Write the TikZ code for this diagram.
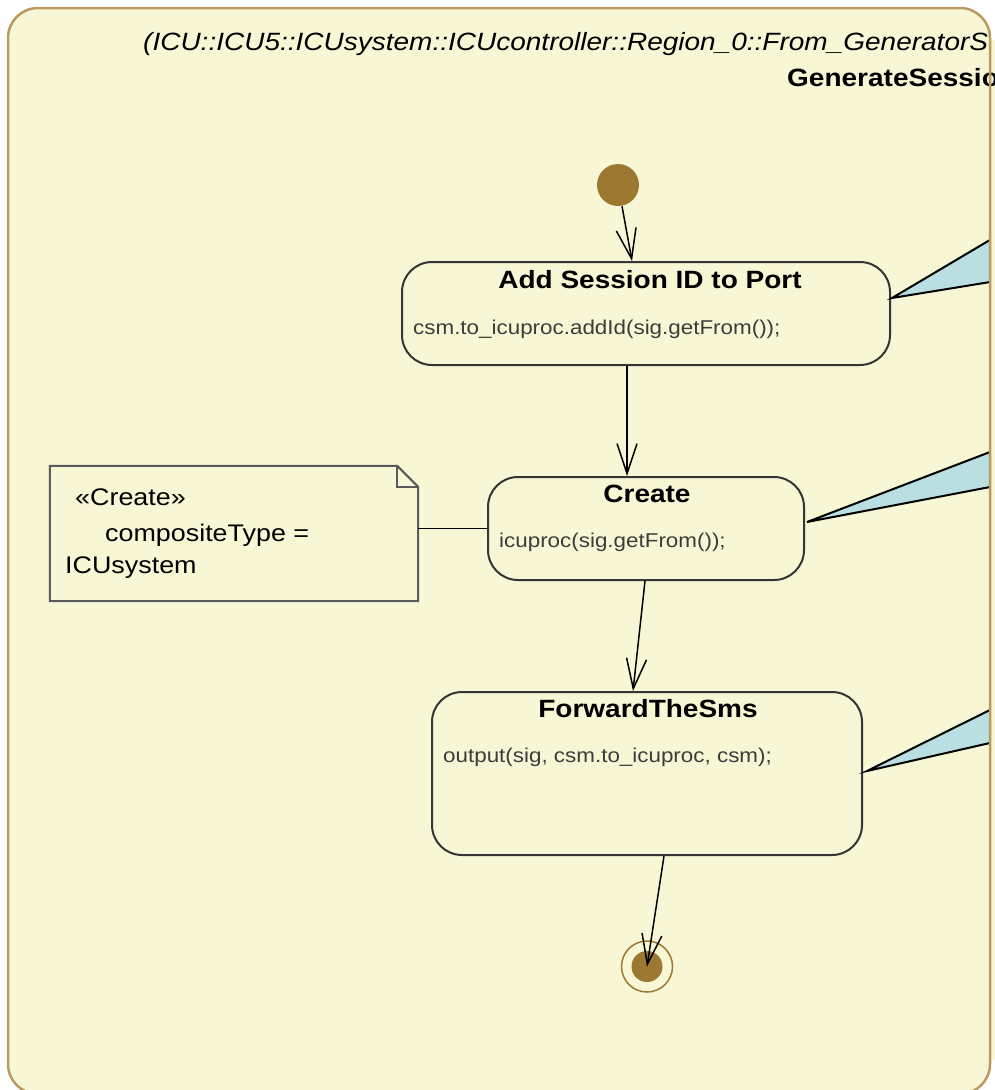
\documentclass[tikz,border=0pt]{standalone}
\usepackage{fontspec}
\setmainfont{Liberation Sans}[FakeStretch=1.12]
\usetikzlibrary{arrows.meta,calc}

\definecolor{framebg}{HTML}{F7F7D6}
\definecolor{frameline}{HTML}{B89A62}
\definecolor{pseudo}{HTML}{9C7830}
\definecolor{calloutfill}{HTML}{B9DFE3}
\definecolor{boxline}{HTML}{353535}
\definecolor{bodytext}{HTML}{3C3C3C}
\definecolor{noteline}{HTML}{5A5A5A}

\tikzset{
  statebox/.style={draw=boxline, line width=2pt, rounded corners=30pt, fill=framebg, inner sep=0pt},
  statetitle/.style={font=\fontsize{25}{30}\selectfont\bfseries, text=black, inner sep=0pt},
  statebody/.style={font=\fontsize{20}{24}\selectfont, text=bodytext, inner sep=0pt},
  notetext/.style={font=\fontsize{24}{28}\selectfont, text=black, inner sep=0pt, anchor=base west},
  noteborder/.style={draw=noteline, line width=2pt, line join=miter},
  initial/.style={circle, fill=pseudo, minimum size=42pt, inner sep=0pt},
  finalring/.style={circle, draw=pseudo, line width=1.5pt, fill=framebg, minimum size=51pt, inner sep=0pt},
  finaldot/.style={circle, fill=pseudo, minimum size=31pt, inner sep=0pt},
  flow/.style={draw=black, line width=1.5pt, -{Straight Barb[length=30pt, width=20pt, line width=1.5pt]}},
  link/.style={draw=black, line width=1.5pt},
  callout/.style={fill=calloutfill, draw=black, line width=2pt, line join=miter},
  pathtitle/.style={font=\fontsize{25}{30}\selectfont\itshape, inner sep=0pt, anchor=base west},
  nametitle/.style={font=\fontsize{25}{30}\selectfont\bfseries, inner sep=0pt, anchor=base west},
}

\begin{document}
\begin{tikzpicture}[x=1pt, y=-1pt]
  \useasboundingbox (0,0) rectangle (995,1090);
  \fill[white] (0,0) rectangle (995,1090);
  \fill[framebg] (990,40) rectangle (995,1060);
  % activity frame
  \fill[framebg, rounded corners=30pt] (8,8) rectangle (990,1094);

  % frame heading
  \node[pathtitle] (heading) at (143,50) {(ICU::ICU5::ICUsystem::ICUcontroller::Region\_0::From\_GeneratorS};
  \node[nametitle] (name) at (787,86) {GenerateSession};

  % pseudo states
  \node[initial] (init) at (618,185) {};
  \node[finalring] (final) at (647,966.5) {};
  \node[finaldot] (finaldot) at (final.center) {};

  % actions
  \node[statebox, minimum width=488pt, minimum height=103pt] (add) at (646,313.5) {};
  \node[statetitle, anchor=base] (addT) at (650,288) {Add Session ID to Port};
  \node[statebody, anchor=base west] (addB) at (413,334) {csm.to\_icuproc.addId(sig.getFrom());};

  \node[statebox, minimum width=316pt, minimum height=103pt] (create) at (646,528.5) {};
  \node[statetitle, anchor=base] (createT) at (647,502) {Create};
  \node[statebody, anchor=base west] (createB) at (499,547) {icuproc(sig.getFrom());};

  \node[statebox, minimum width=430pt, minimum height=163pt] (fwd) at (647,773.5) {};
  \node[statetitle, anchor=base] (fwdT) at (648,717) {ForwardTheSms};
  \node[statebody, anchor=base west] (fwdB) at (443,762) {output(sig, csm.to\_icuproc, csm);};

  % note with folded corner
  \node[minimum width=368pt, minimum height=135pt, inner sep=0pt] (note) at (234,533.5) {};
  \draw[noteborder, fill=framebg] (note.north west) -- ([xshift=-21pt]note.north east)
    -- ([yshift=-21pt]note.north east) -- (note.south east) -- (note.south west) -- cycle;
  \draw[noteborder, line width=1.5pt] ([xshift=-21pt]note.north east) -- ([xshift=-21pt, yshift=-21pt]note.north east)
    -- ([yshift=-21pt]note.north east);
  \node[notetext] (noteA) at (75,505) {«Create»};
  \node[notetext] (noteB) at (105,541) {compositeType =};
  \node[notetext] (noteC) at (65,573) {ICUsystem};
  \draw[link] (note.east |- create.west) -- (create.west);

  % transitions
  \draw[flow] ([xshift=4pt]init.south) -- ([xshift=-14pt]add.north);
  \draw[flow] ([xshift=-19pt]add.south) -- ([xshift=-19pt]create.north);
  \draw[flow] ([xshift=-1pt]create.south) -- ([xshift=-14pt]fwd.north);
  \draw[flow] ([xshift=17pt]fwd.south) -- (final.center);

  % comment callouts pointing at the actions
  \coordinate (tipA) at (892,298);
  \coordinate (tipB) at (807,522);
  \coordinate (tipC) at (867,771);
  \begin{scope}
    \clip (0,0) rectangle (990,1090);
    \draw[callout] (tipA) -- (1000,234) -- (1000,280.4) -- cycle;
    \draw[callout] (tipB) -- (1000,448.2) -- (1000,485.1) -- cycle;
    \draw[callout] (tipC) -- (1000,705) -- (1000,740.7) -- cycle;
  \end{scope}

  % frame border
  \draw[frameline, line width=2.5pt, rounded corners=30pt] (8,8) rectangle (990,1094);
\end{tikzpicture}
\end{document}
